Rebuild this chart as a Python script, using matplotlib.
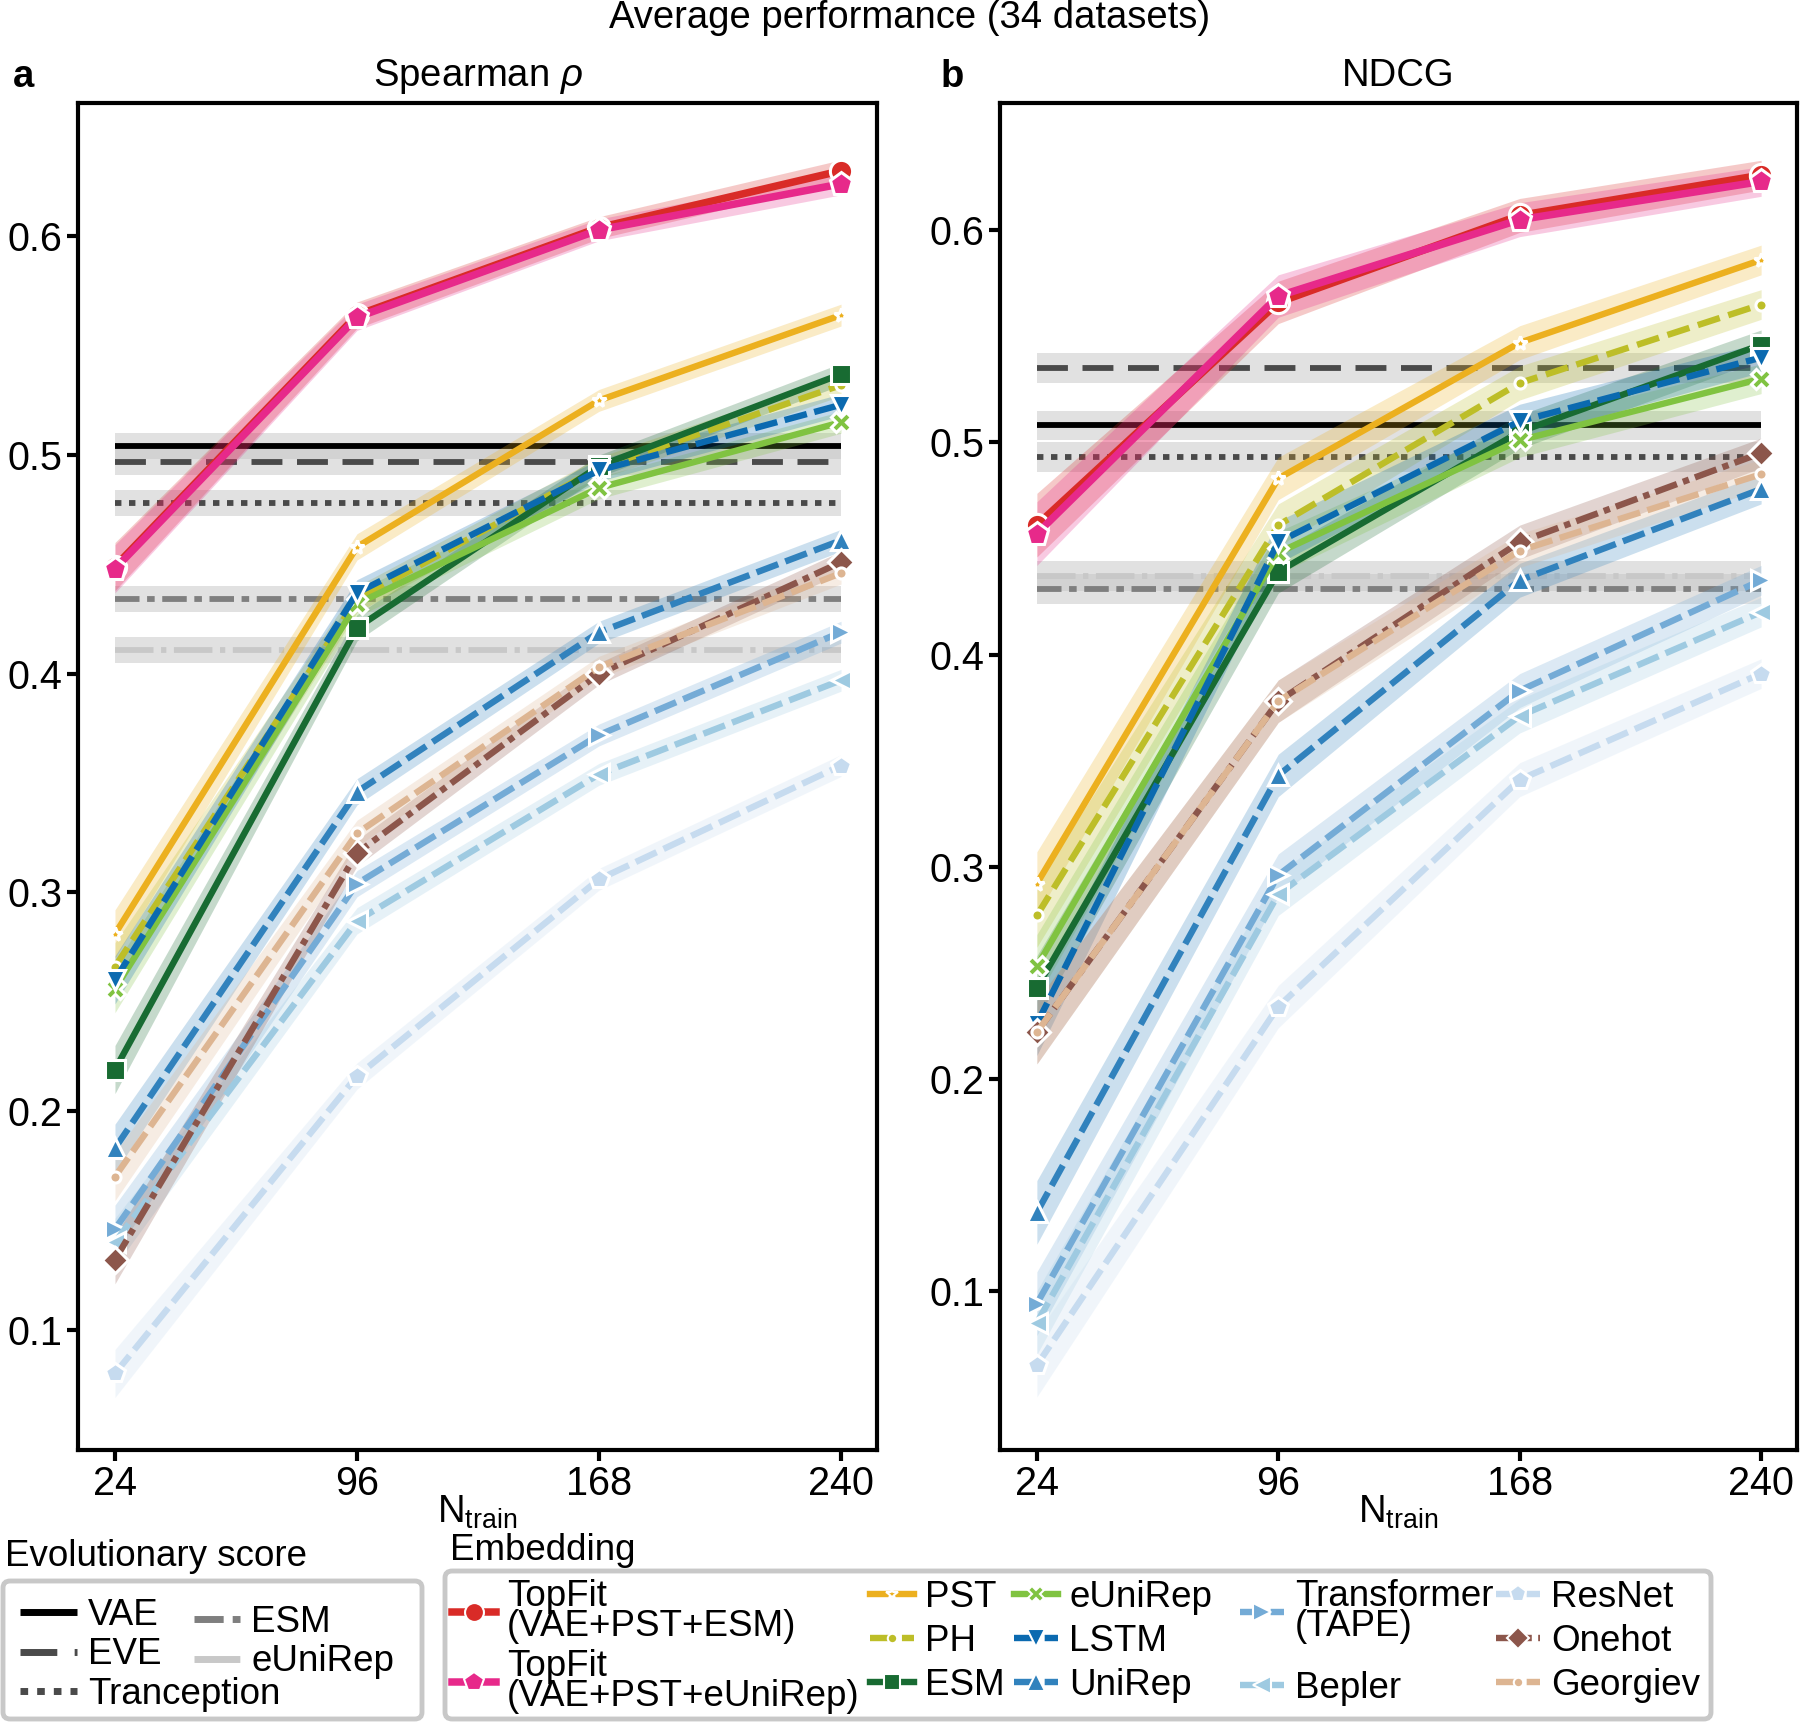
import matplotlib
matplotlib.use("Agg")
import matplotlib.pyplot as plt
from matplotlib.lines import Line2D
from matplotlib.patches import FancyBboxPatch
import numpy as np

plt.rcParams['font.family'] = ['Liberation Sans', 'DejaVu Sans']
plt.rcParams['mathtext.fontset'] = 'custom'
plt.rcParams['mathtext.rm'] = 'Liberation Sans'
plt.rcParams['mathtext.it'] = 'Liberation Sans:italic'

# ---------------- data ----------------
n_train = [24, 96, 168, 240]

# Spearman rho (panel a)
topfit_esm_a = [0.449, 0.564, 0.604, 0.630]
topfit_eunirep_a = [0.448, 0.563, 0.603, 0.624]
pst_a = [0.281, 0.458, 0.525, 0.564]
ph_a = [0.266, 0.434, 0.494, 0.532]
esm_a = [0.219, 0.421, 0.495, 0.537]
eunirep_a = [0.256, 0.432, 0.485, 0.515]
lstm_a = [0.260, 0.437, 0.493, 0.523]
unirep_a = [0.183, 0.346, 0.419, 0.461]
transformer_a = [0.146, 0.304, 0.372, 0.419]
bepler_a = [0.140, 0.287, 0.354, 0.397]
resnet_a = [0.080, 0.216, 0.306, 0.358]
onehot_a = [0.132, 0.318, 0.400, 0.451]
georgiev_a = [0.170, 0.327, 0.403, 0.446]
evo_a = [0.504, 0.497, 0.478, 0.434, 0.411]   # VAE, EVE, Tranception, ESM, eUniRep
ci_a = [0.011, 0.006, 0.005, 0.005]
evo_ci_a = 0.006

# NDCG (panel b)
topfit_esm_b = [0.461, 0.566, 0.607, 0.626]
topfit_eunirep_b = [0.457, 0.569, 0.605, 0.623]
pst_b = [0.292, 0.483, 0.547, 0.586]
ph_b = [0.277, 0.461, 0.528, 0.565]
esm_b = [0.243, 0.439, 0.505, 0.546]
eunirep_b = [0.253, 0.448, 0.501, 0.530]
lstm_b = [0.226, 0.453, 0.510, 0.540]
unirep_b = [0.137, 0.343, 0.435, 0.478]
transformer_b = [0.094, 0.296, 0.383, 0.435]
bepler_b = [0.085, 0.287, 0.371, 0.420]
resnet_b = [0.065, 0.234, 0.341, 0.391]
onehot_b = [0.222, 0.378, 0.453, 0.495]
georgiev_b = [0.222, 0.378, 0.449, 0.485]
evo_b = [0.508, 0.535, 0.493, 0.431, 0.437]
ci_b = [0.015, 0.010, 0.008, 0.007]
evo_ci_b = 0.007

evo_names = ['VAE', 'EVE', 'Tranception', 'ESM', 'eUniRep']
emb_names = ['TopFit\n(VAE+PST+ESM)', 'TopFit\n(VAE+PST+eUniRep)', 'PST', 'PH', 'ESM',
             'eUniRep', 'LSTM', 'UniRep', 'Transformer\n(TAPE)', 'Bepler', 'ResNet',
             'Onehot', 'Georgiev']
x_ticks = [24, 96, 168, 240]
y_ticks = [0.1, 0.2, 0.3, 0.4, 0.5, 0.6]

# ---------------- styles ----------------
EVO_LW = 4.2
evo_style = {
    'VAE': dict(color='black', dashes=()),
    'EVE': dict(color='#4a4a4a', dashes=(5.3, 2.5)),
    'Tranception': dict(color='#4a4a4a', dashes=(1.1, 1.3)),
    'ESM': dict(color='#7f7f7f', dashes=(4.2, 1.3, 1.3, 1.3)),
    'eUniRep': dict(color='#c8c8c8', dashes=(6.6, 1.3, 0.9, 1.3)),
}
emb_style = [
    dict(color='#D92B27', dashes=(), marker='o', ms=16, lw=5.4),
    dict(color='#E7298A', dashes=(), marker='p', ms=17, lw=5.4),
    dict(color='#ECB01F', dashes=(), marker='*', ms=10, lw=4.6),
    dict(color='#BDBE28', dashes=(3.6, 1.4), marker='o', ms=8, lw=4.6),
    dict(color='#186B32', dashes=(), marker='s', ms=14, lw=4.6),
    dict(color='#80C341', dashes=(), marker='X', ms=14, lw=4.6),
    dict(color='#0B6AB0', dashes=(3.6, 1.2), marker='v', ms=15, lw=4.6),
    dict(color='#3182BD', dashes=(3.6, 1.2), marker='^', ms=15, lw=4.6),
    dict(color='#74ABD6', dashes=(3.6, 1.2), marker='>', ms=15, lw=4.6),
    dict(color='#9ECAE1', dashes=(3.6, 1.2), marker='<', ms=15, lw=4.6),
    dict(color='#C6DBEF', dashes=(3.6, 1.2), marker='p', ms=15, lw=4.6),
    dict(color='#8C564B', dashes=(3.6, 1.0, 1.0, 1.0), marker='D', ms=13, lw=4.6),
    dict(color='#DDB592', dashes=(3.6, 1.2), marker='o', ms=8, lw=4.6),
]

FS = 26.5
TFS = 28.5

fig = plt.figure(figsize=(18, 17.22), dpi=100)
W, H = 1800.0, 1722.0
bot = 1 - 1450 / H
hgt = (1450 - 103) / H
axA = fig.add_axes([78 / W, bot, (877 - 78) / W, hgt])
axB = fig.add_axes([1000 / W, bot, (1797 - 1000) / W, hgt])

panels = [
    (axA, [topfit_esm_a, topfit_eunirep_a, pst_a, ph_a, esm_a, eunirep_a, lstm_a, unirep_a,
           transformer_a, bepler_a, resnet_a, onehot_a, georgiev_a], evo_a, ci_a, evo_ci_a,
     (0.045, 0.661), r'Spearman $\rho$', 'a'),
    (axB, [topfit_esm_b, topfit_eunirep_b, pst_b, ph_b, esm_b, eunirep_b, lstm_b, unirep_b,
           transformer_b, bepler_b, resnet_b, onehot_b, georgiev_b], evo_b, ci_b, evo_ci_b,
     (0.025, 0.660), 'NDCG', 'b'),
]

xs = np.array(n_train, dtype=float)
for ax, series, evo, ci, evo_ci, ylim, title, letter in panels:
    for name, val in zip(evo_names, evo):
        st = evo_style[name]
        ax.fill_between([xs[0], xs[-1]], val - evo_ci, val + evo_ci, color='#c4c4c4',
                        alpha=0.5, lw=0, zorder=1)
        ax.plot([xs[0], xs[-1]], [val, val], color=st['color'], lw=EVO_LW,
                dashes=st['dashes'], solid_capstyle='butt', dash_capstyle='butt', zorder=2)
    for k, (vals, st) in enumerate(zip(series, emb_style)):
        v = np.array(vals)
        c = np.array(ci)
        ax.fill_between(xs, v - c, v + c, color=st['color'], alpha=0.25, lw=0, zorder=3 + k * 0.01)
        ax.plot(xs, v, color=st['color'], lw=st['lw'], dashes=st['dashes'],
                dash_capstyle='butt', marker=st['marker'], ms=st['ms'],
                markeredgecolor='white', markeredgewidth=2.2, zorder=4 + k * 0.01)
    ax.set_xlim(13, 250.7)
    ax.set_ylim(*ylim)
    ax.set_xticks(x_ticks)
    ax.set_xticklabels([str(t) for t in x_ticks])
    ax.set_yticks(y_ticks)
    ax.set_yticklabels(['%.1f' % t for t in y_ticks])
    ax.tick_params(labelsize=TFS, length=8, width=3, direction='out', pad=3)
    for sp in ax.spines.values():
        sp.set_linewidth(3)
        sp.set_color('black')
    ax.set_title(title, fontsize=FS + 1, pad=12)
    ax.text(0.5, -0.046, r'N$_{\mathrm{train}}$', transform=ax.transAxes,
            ha='center', va='center', fontsize=FS + 1)

fig.text(23 / W, 1 - 77 / H, 'a', fontsize=FS + 1, fontweight='bold', ha='center', va='center')
fig.text(952 / W, 1 - 77 / H, 'b', fontsize=FS + 1, fontweight='bold', ha='center', va='center')
fig.text(910 / W, 1 - 18 / H, 'Average performance (34 datasets)', fontsize=FS + 1,
         ha='center', va='center')

# ---------------- legends ----------------
def add_frame(x0, y0, x1, y1):
    frame = FancyBboxPatch((x0 / W, 1 - y1 / H), (x1 - x0) / W, (y1 - y0) / H,
                           boxstyle='round,pad=0,rounding_size=0.004',
                           transform=fig.transFigure, facecolor='white',
                           edgecolor='#c8c8c8', linewidth=3.5, zorder=0)
    fig.patches.append(frame)


def evo_handle(name):
    st = evo_style[name]
    return Line2D([], [], color=st['color'], lw=5.0, dashes=st['dashes'],
                  dash_capstyle='butt', solid_capstyle='butt')


# Evolutionary score
fig.text(5 / W, 1 - 1557 / H, 'Evolutionary score', fontsize=FS, ha='left', va='center')
add_frame(3, 1581, 422, 1719)
for names, x0, y0, hl in [(['VAE', 'EVE', 'Tranception'], 20, 1598, 1.55),
                          (['ESM', 'eUniRep'], 194, 1605, 1.25)]:
    fig.legend([evo_handle(n) for n in names], names, loc='upper left',
               bbox_to_anchor=(x0 / W, 1 - y0 / H), fontsize=FS, frameon=False,
               handlelength=hl, handletextpad=0.3, labelspacing=0.12,
               borderpad=0, borderaxespad=0)

# Embedding
fig.text(450 / W, 1 - 1551 / H, 'Embedding', fontsize=FS, ha='left', va='center')
add_frame(445, 1571, 1711, 1719)


def emb_handle(k):
    st = emb_style[k]
    return Line2D([], [], color=st['color'], lw=st['lw'], dashes=st['dashes'],
                  dash_capstyle='butt', marker=st['marker'], ms=st['ms'] * 0.85,
                  markeredgecolor='white', markeredgewidth=1.5)


columns = [
    ([0, 1], 452, 1579, 0.12),
    ([2, 3, 4], 870, 1580, 0.24),
    ([5, 6, 7], 1014, 1580, 0.24),
    ([8, 9], 1240, 1579, 0.72),
    ([10, 11, 12], 1496, 1580, 0.24),
]
for idx, x0, y0, ls in columns:
    lg = fig.legend([emb_handle(k) for k in idx], [emb_names[k] for k in idx],
                    loc='upper left', bbox_to_anchor=(x0 / W, 1 - y0 / H), fontsize=FS,
                    frameon=False, handlelength=1.2, handletextpad=0.3, labelspacing=ls,
                    borderpad=0, borderaxespad=0)
    for t in lg.get_texts():
        t.set_linespacing(0.82)

fig.savefig('out.png', dpi=100)
